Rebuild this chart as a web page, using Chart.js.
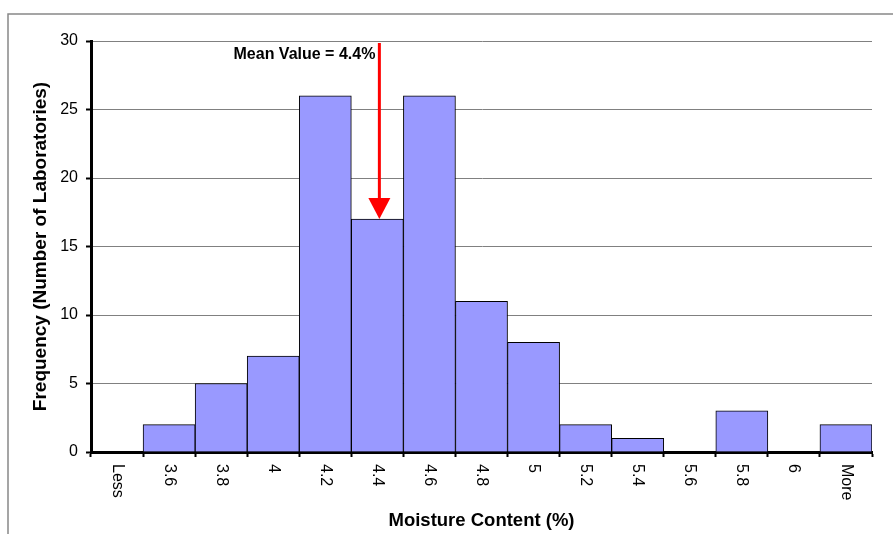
<!DOCTYPE html>
<html>
<head>
<meta charset="utf-8">
<script src="https://cdn.jsdelivr.net/npm/chart.js@4/dist/chart.umd.min.js"></script>
<style>
  body { margin: 0; background: #fff; }
</style>
</head>
<body>
<canvas id="myChart" width="893" height="534"></canvas>
<script>
// histogram bins and counts
var binLabels = ['Less', '3.6', '3.8', '4', '4.2', '4.4', '4.6', '4.8', '5', '5.2', '5.4', '5.6', '5.8', '6', 'More'];
var frequency = [0, 2, 5, 7, 26, 17, 26, 11, 8, 2, 1, 0, 3, 0, 2];
var yTicks = [0, 5, 10, 15, 20, 25, 30];
var meanLabel = '4.4';
var meanText = 'Mean Value = 4.4%';

// frame line round the chart + rotated x labels + mean arrow
var extras = {
  id: 'extras',
  beforeDraw: function(chart) {
    var ctx = chart.ctx;
    ctx.save();
    ctx.fillStyle = '#fff';
    ctx.fillRect(0, 0, chart.width, chart.height);
    ctx.strokeStyle = '#888';
    ctx.lineWidth = 1.5;
    ctx.beginPath();
    ctx.moveTo(chart.width, 14);
    ctx.lineTo(8, 14);
    ctx.lineTo(8, chart.height);
    ctx.stroke();
    ctx.restore();
  },
  afterDraw: function(chart) {
    var ctx = chart.ctx;
    var xs = chart.scales.x, ys = chart.scales.y;
    ctx.save();
    // x labels, reading top to bottom
    ctx.fillStyle = '#000';
    ctx.font = '16px "Liberation Sans", Arial, sans-serif';
    ctx.textAlign = 'left';
    ctx.textBaseline = 'middle';
    binLabels.forEach(function(lab, i) {
      ctx.save();
      ctx.translate(xs.getPixelForValue(i), xs.top + 12);
      ctx.rotate(Math.PI / 2);
      ctx.fillText(lab, 0, 0);
      ctx.restore();
    });
    // mean arrow
    var mi = binLabels.indexOf(meanLabel);
    var ax = xs.getPixelForValue(mi) + 2;
    var top = ys.getPixelForValue(yTicks[yTicks.length - 1]) + 2;
    var tip = ys.getPixelForValue(frequency[mi]);
    ctx.strokeStyle = '#ff0000';
    ctx.fillStyle = '#ff0000';
    ctx.lineWidth = 3;
    ctx.beginPath();
    ctx.moveTo(ax, top);
    ctx.lineTo(ax, tip - 18);
    ctx.stroke();
    ctx.beginPath();
    ctx.moveTo(ax - 11, tip - 21);
    ctx.lineTo(ax + 11, tip - 21);
    ctx.lineTo(ax, tip);
    ctx.closePath();
    ctx.fill();
    ctx.fillStyle = '#000';
    ctx.font = 'bold 16px "Liberation Sans", Arial, sans-serif';
    ctx.textAlign = 'right';
    ctx.fillText(meanText, ax - 4, top + 12);
    ctx.restore();
  }
};

var ctx = document.getElementById('myChart').getContext('2d');
var chart = new Chart(ctx, {
  type: 'bar',
  data: {
    labels: binLabels,
    datasets: [{
      data: frequency,
      backgroundColor: '#9999ff',
      borderColor: '#000',
      borderWidth: 1,
      barPercentage: 1,
      categoryPercentage: 1
    }]
  },
  options: {
    responsive: false,
    animation: false,
    layout: { padding: { top: 41, right: 21, left: 0, bottom: 0 } },
    plugins: { legend: { display: false }, tooltip: { enabled: false } },
    scales: {
      x: {
        afterFit: function(s) { s.height = 82; },
        grid: { drawOnChartArea: false, drawTicks: true, tickLength: 5, tickColor: '#000', tickWidth: 2 },
        border: { color: '#000', width: 3 },
        ticks: { color: 'rgba(0,0,0,0)', autoSkip: false, maxRotation: 90, minRotation: 90 },
        title: {
          display: true,
          text: 'Moisture Content (%)',
          color: '#000',
          font: { family: '"Liberation Sans", Arial, sans-serif', size: 18.5, weight: 'bold' },
          padding: { top: 0, bottom: 2 }
        }
      },
      y: {
        min: 0,
        max: 30,
        afterFit: function(s) { s.width = 91; },
        afterBuildTicks: function(s) { s.ticks = yTicks.map(function(v) { return { value: v }; }); },
        grid: { color: '#808080', lineWidth: 1, tickLength: 5, tickColor: '#000', tickWidth: 2 },
        border: { color: '#000', width: 3 },
        ticks: {
          color: '#000',
          padding: 8,
          font: { family: '"Liberation Sans", Arial, sans-serif', size: 16 }
        },
        title: {
          display: true,
          text: 'Frequency (Number of Laboratories)',
          color: '#000',
          font: { family: '"Liberation Sans", Arial, sans-serif', size: 19, weight: 'bold' },
          padding: { top: 29, bottom: 0 }
        }
      }
    }
  },
  plugins: [extras]
});
</script>
</body>
</html>
